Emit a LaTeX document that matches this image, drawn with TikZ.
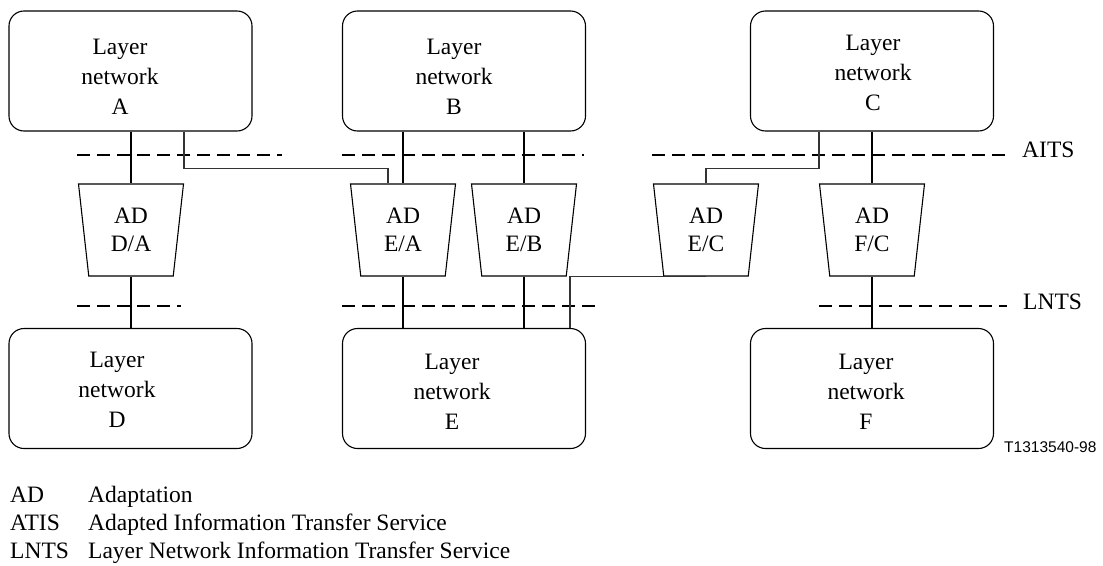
\documentclass[tikz,border=0pt]{standalone}
\usepackage{fontspec}
\setmainfont{Liberation Serif}
\newfontfamily\tagfont{Liberation Sans}
\usetikzlibrary{shapes.geometric,calc}

\tikzset{
  netbox/.style={draw, line width=1.1pt, rounded corners=15pt,
    minimum width=243pt, minimum height=120pt, inner sep=0pt},
  boxtext/.style={align=center, inner sep=0pt,
    font=\fontsize{23.5}{30}\selectfont},
  adapt/.style={draw, line width=1.1pt, trapezium, shape border rotate=180,
    trapezium left angle=76.8, trapezium right angle=76.8,
    trapezium stretches body, minimum width=105pt, minimum height=92pt,
    inner sep=0pt, align=center, font=\fontsize{23.5}{28}\selectfont},
  link/.style={line width=1.8pt},
  thinlink/.style={line width=1.2pt, black!80},
  service/.style={line width=1.8pt, dash pattern=on 13pt off 7pt},
  svclabel/.style={anchor=west, inner sep=0pt, font=\fontsize{23.5}{28}\selectfont},
  legend/.style={anchor=base west, inner sep=0pt, font=\fontsize{23.5}{28}\selectfont}
}

\begin{document}
\begin{tikzpicture}[x=1pt, y=-1pt]
\useasboundingbox (0,0) rectangle (1103,565);

% layer networks
\node[netbox] (A) at (130.5,71) {};
\node[netbox] (B) at (464,71) {};
\node[netbox] (C) at (872,71) {};
\node[netbox] (D) at (130.5,388.5) {};
\node[netbox] (E) at (464,388.5) {};
\node[netbox] (F) at (872,388.5) {};

\node[boxtext] (At) at (120,77) {Layer\\network\\A};
\node[boxtext] (Bt) at (454,77) {Layer\\network\\B};
\node[boxtext] (Ct) at (873,73) {Layer\\network\\C};
\node[boxtext] (Dt) at (117,390) {Layer\\network\\D};
\node[boxtext] (Et) at (452,392) {Layer\\network\\E};
\node[boxtext] (Ft) at (866,392) {Layer\\network\\F};

% adaptation functions
\node[adapt] (DA) at (131,230) {AD\\D/A};
\node[adapt] (EA) at (403,230) {AD\\E/A};
\node[adapt] (EB) at (524,230) {AD\\E/B};
\node[adapt] (EC) at (706,230) {AD\\E/C};
\node[adapt] (FC) at (872,230) {AD\\F/C};

% service boundaries
\draw[service] (77,155) -- (282,155);
\draw[service] (342,155) -- (584,155);
\draw[service] (652,155) -- (1007,155);
\draw[service] (77,306) -- (181,306);
\draw[service] (342,306) -- (600,306);
\draw[service] (819,306) -- (1007,306);
\node[svclabel] (aits) at (1022,150) {AITS};
\node[svclabel] (lnts) at (1023,302) {LNTS};

% connections above the adaptations
\draw[link] (A.south -| DA.north) -- (DA.north);
\draw[link] (B.south -| EA.north) -- (EA.north);
\draw[link] (B.south -| EB.north) -- (EB.north);
\draw[link] (C.south -| FC.north) -- (FC.north);
\draw[thinlink] ([xshift=53.5pt]A.south) |- ($(EA.north)+(-15,-15)$) -- ([xshift=-15pt]EA.north);
\draw[thinlink] ([xshift=-53pt]C.south) |- ($(EC.north)+(0,-15)$) -- (EC.north);

% connections below the adaptations
\draw[link] (DA.south) -- (DA.south |- D.north);
\draw[link] (EA.south) -- (EA.south |- E.north);
\draw[link] (EB.south) -- (EB.south |- E.north);
\draw[link] (FC.south) -- (FC.south |- F.north);
\draw[thinlink] ([xshift=106pt]E.north) |- (EC.south);

% figure tag
\node[anchor=west, inner sep=0pt, font=\tagfont\fontsize{15.5}{18}\selectfont] (tag) at (1004,447) {T1313540-98};

% legend
\node[legend] (k1) at (10,502) {AD};
\node[legend] (v1) at (88,502) {Adaptation};
\node[legend] (k2) at (10,530) {ATIS};
\node[legend] (v2) at (88,530) {Adapted Information Transfer Service};
\node[legend] (k3) at (10,558) {LNTS};
\node[legend] (v3) at (88,558) {Layer Network Information Transfer Service};
\end{tikzpicture}
\end{document}
